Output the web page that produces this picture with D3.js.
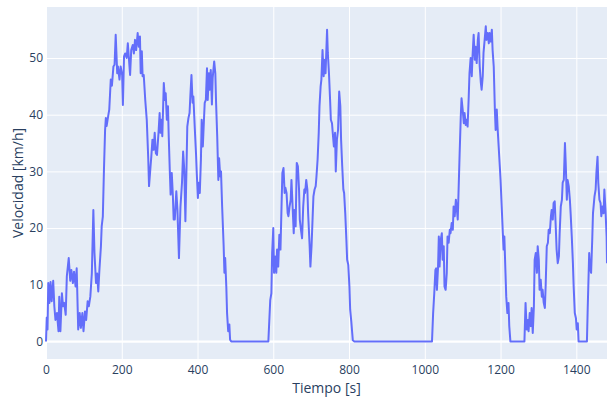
<!DOCTYPE html>
<html>
<head>
<meta charset="utf-8">
<script src="https://cdn.jsdelivr.net/npm/d3@7"></script>
<style>
  html, body { margin: 0; padding: 0; background: #fff; }
  svg { display: block; font-family: "Open Sans", verdana, arial, sans-serif; }
</style>
</head>
<body>
<script>

// Tiempo [s] and Velocidad [km/h]
const tiempo = [
  0,2,4,6,9,12,15,19,22,25,
  29,33,35,38,42,45,48,52,55,60,
  64,67,71,74,78,81,85,89,92,96,
  99,103,106,110,113,117,121,125,128,132,
  135,138,141,145,147,150,153,156,158,160,
  164,167,171,174,178,181,184,188,190,194,
  197,201,203,206,209,213,216,219,222,225,
  229,232,235,238,242,245,
  248,250,253,255,258,262,266,270,272,276,
  278,281,284,287,290,293,297,300,302,305,
  307,311,314,316,319,322,324,327,329,332,
  335,337,340,344,347,351,355,359,362,365,
  368,371,373,376,379,381,384,387,389,393,
  396,398,401,403,406,409,411,414,417,419,
  422,425,427,430,432,435,438,440,444,447,
  449,452,455,457,460,462,465,469,471,473,
  476,478,481,484,486,489,587,
  592,595,597,600,602,605,608,610,613,616,
  619,622,624,627,630,632,635,638,640,643,
  646,648,651,654,656,659,662,665,668,670,
  673,676,679,682,684,687,690,692,696,698,
  701,704,706,709,712,714,717,720,722,725,
  727,730,733,735,738,742,744,747,750,752,
  755,757,760,763,765,768,771,774,777,779,
  782,785,787,790,793,795,798,801,803,806,
  808,810,814,1019,
  1022,1025,1028,1030,1032,1035,1037,1039,1042,1045,
  1047,1050,1052,1055,1058,1060,1063,1066,1068,1071,
  1074,1076,1079,1082,1084,1087,1089,1092,1095,1097,
  1100,1103,1105,1108,1110,1113,1116,1118,1121,1124,
  1126,1129,1132,1134,1137,1140,1142,1145,1148,1150,
  1153,1155,1158,1161,1163,1166,1169,1171,1174,1177,
  1179,1182,1185,1187,1190,1192,1195,1198,1200,1203,
  1206,1208,1210,1213,1215,1218,1221,1223,1226,1263,
  1266,1269,1272,1274,1277,1280,1282,1285,1288,1290,
  1293,1296,1298,1301,1303,1306,1309,1311,1314,1317,
  1319,1322,1325,1327,1330,1333,1335,1338,1340,1343,
  1346,1348,1351,1354,1356,1359,1362,1364,1367,1370,
  1372,1375,1377,1380,1383,1385,1388,1391,1393,1396,
  1399,1401,1404,1406,1428,1430,1434,1436,1439,1442,
  1444,1448,1451,1453,1456,1458,1461,1464,1466,1469,
  1472,1474,1477,1480,1481
];

const velocidad = [
  0,4.2,2.1,10.3,6.8,10.5,7.1,10.7,6.2,3.8,
  5,1.8,7.9,1.8,8.5,6.2,6.8,4.7,11.5,14.7,
  10.7,12.6,10.3,12.3,9.7,12.9,2.1,5,2.4,5,
  1.8,5.3,3.8,7.1,6.2,7.9,12,23.2,15.6,10.3,
  12,8.8,12.6,16.8,20.3,22,30.3,37.3,39.4,38,
  39.7,40.9,46.2,45.1,48.5,48.8,54.1,47.3,48.5,46.2,
  48.5,47,41.7,50.3,50.8,50,52.6,49.8,47,51.4,
  52.3,50.8,53.2,51.4,54.4,52,
  53.8,47.3,51.2,46.8,47,42.6,39.1,32.1,27.4,30.9,
  32.6,35.6,33.8,36.8,33.2,32.9,36.8,40.3,36.8,39.1,
  36.2,45.6,42.6,43.8,39.1,41.5,36.2,29.7,25.9,29.7,
  25.6,21.5,21.5,26.5,23.2,14.7,23.8,28,33.5,30.3,
  21.2,30.9,37.9,39.4,40.3,43.2,47,42.1,43.2,37.3,
  33.2,29.7,25.3,28,26.2,32.1,39.1,34.4,39.1,42.1,
  42.6,48.2,42.6,47.3,44.4,47.9,41.8,46.5,49.4,47.3,
  42.1,36.2,28.5,32.3,29.1,30,23.8,16.8,12.1,14.7,
  9.7,5,1.8,3,0.3,0,0,
  7.3,8.5,15.6,20,12.1,15,12.1,16.2,13.2,18.8,
  16.2,24.4,29.7,30.6,26.2,27.1,26.2,22.6,22.1,23.8,
  25,28.5,23.8,19.1,23.2,20.3,31.5,30.9,26.8,21.5,
  19.7,18.2,23.8,26.8,26.2,28.5,26.8,22.6,16.8,13.2,
  16.8,22.1,25.6,26.8,27.4,29.1,32.1,36.8,41.5,45,
  46.2,51.4,46.8,49.7,47.3,55,50.9,47.3,42.6,39.1,
  38.5,36.8,34.4,36.8,30,35.6,37.3,44.1,41.5,35.6,
  30.9,26.8,26.2,22.6,17.9,14.4,13.5,9.7,5.6,3.5,
  1.8,0.2,0,0,
  5,8.5,12.6,12.9,9.1,13.2,18.5,13.2,17.9,19.1,
  14.4,16.8,9.7,9.1,12.1,18.5,17.4,19.7,19.1,20.9,
  19.7,23.8,22.1,25,23.8,21.5,26.2,33.2,39.7,42.9,
  40.9,38.5,40.3,38.2,39.1,37.9,43.2,47.3,50,46.8,
  50.3,54.1,49.7,52,49.1,53.2,54.4,48.5,45.6,44.4,
  46.8,50.9,53.2,55.6,53.2,54.4,52.6,54.4,52.9,55,
  51.4,48.5,40.9,37.3,40.9,37.9,34.4,30.9,28.5,23.8,
  19.1,16.2,18.5,12.1,7.9,5,6.8,2.7,0,0,
  6.8,2.1,3.8,1.8,5,2.7,5.9,1.5,6.2,14.4,
  15.6,12.1,16.8,14.4,9.1,10.9,7.9,9.1,6.8,5.9,
  9.7,16.8,17.4,19.7,19.1,22.1,23.2,21.5,24.4,24.7,
  19.7,16.2,13.8,15,19.1,23.8,25,28,28.5,35,
  31.5,25,28.5,27.4,25,22.6,18.5,13.8,9.7,5,
  4.1,2.1,3.2,0,0,5.6,15.6,13.2,12.1,17.9,
  22.6,25.6,26.8,29.7,32.6,28,25,24.4,22.1,23.8,
  22.6,26.8,23.2,18.5,13.8
];

const x_ticks = [0, 200, 400, 600, 800, 1000, 1200, 1400];
const y_ticks = [0, 10, 20, 30, 40, 50];

const x_title = "Tiempo [s]";
const y_title = "Velocidad [km/h]";


// Dimensions and margins of the chart:
const SVG_WIDTH = 607, SVG_HEIGHT = 398;
const MARGIN = { left: 46, top: 7, right: 0, bottom: 39 };
const CHART_WIDTH = SVG_WIDTH - MARGIN.left - MARGIN.right;
const CHART_HEIGHT = SVG_HEIGHT - MARGIN.top - MARGIN.bottom;

const TEXT_COLOR = "#2a3f5f";

const data = tiempo.map((t, i) => ({ t: t, v: velocidad[i] }));

let svg = d3.select("body").append("svg")
    .attr("width", SVG_WIDTH)
    .attr("height", SVG_HEIGHT);

let x = d3.scaleLinear()
    .domain([0, d3.max(tiempo)])
    .range([0, CHART_WIDTH]);

let y = d3.scaleLinear()
    .domain([-3.1, 59.0])
    .range([CHART_HEIGHT, 0]);

let chart = svg.append("g")
    .attr("transform", "translate(" + MARGIN.left + "," + MARGIN.top + ")");

chart.append("rect")
    .attr("width", CHART_WIDTH)
    .attr("height", CHART_HEIGHT)
    .attr("fill", "#e5ecf6");

// grid + tick labels, done with the axes themselves
let x_axis = chart.append("g")
    .attr("transform", "translate(0," + CHART_HEIGHT + ")")
    .call(d3.axisBottom(x).tickValues(x_ticks).tickFormat(d3.format("d"))
        .tickSize(-CHART_HEIGHT).tickPadding(6));

let y_axis = chart.append("g")
    .call(d3.axisLeft(y).tickValues(y_ticks).tickFormat(d3.format("d"))
        .tickSize(-CHART_WIDTH).tickPadding(3));

[x_axis, y_axis].forEach(axis =>
{
  axis.select(".domain").remove();
  axis.selectAll("line").attr("stroke", "#fff").attr("stroke-width", 1);
  axis.selectAll("text")
      .attr("fill", TEXT_COLOR)
      .style("font-size", "12px")
      .style("font-family", '"Open Sans", verdana, arial, sans-serif');
});

// zero lines
chart.append("line")
    .attr("x1", 0).attr("x2", CHART_WIDTH)
    .attr("y1", y(0)).attr("y2", y(0))
    .attr("stroke", "#fff").attr("stroke-width", 2);

chart.append("line")
    .attr("x1", x(0)).attr("x2", x(0))
    .attr("y1", 0).attr("y2", CHART_HEIGHT)
    .attr("stroke", "#fff").attr("stroke-width", 2);

let line = d3.line()
    .x(d => x(d.t))
    .y(d => y(d.v));

chart.append("path")
    .datum(data)
    .attr("d", line)
    .attr("fill", "none")
    .attr("stroke", "#636efa")
    .attr("stroke-width", 2)
    .attr("stroke-linejoin", "round");

// axis titles
svg.append("text")
    .attr("x", MARGIN.left + CHART_WIDTH / 2)
    .attr("y", 393)
    .attr("text-anchor", "middle")
    .attr("fill", TEXT_COLOR)
    .style("font-size", "14px")
    .text(x_title);

svg.append("text")
    .attr("transform", "translate(23," + (MARGIN.top + CHART_HEIGHT / 2) + ") rotate(-90)")
    .attr("text-anchor", "middle")
    .attr("fill", TEXT_COLOR)
    .style("font-size", "14px")
    .text(y_title);

</script>
</body>
</html>
